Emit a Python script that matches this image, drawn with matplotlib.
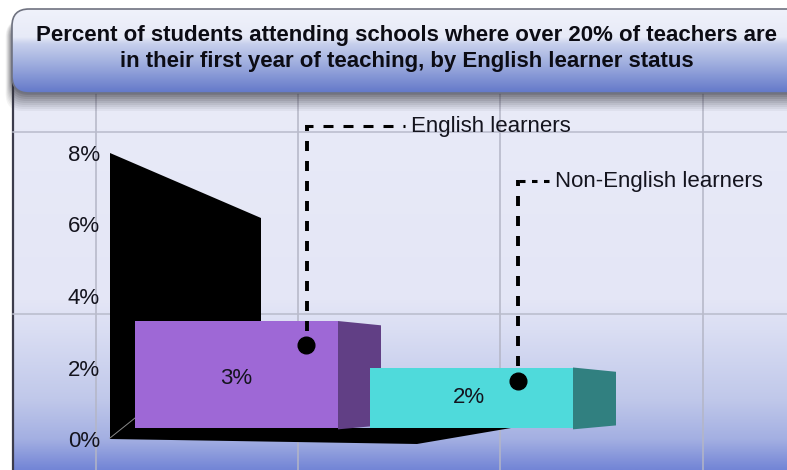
import numpy as np
import matplotlib
matplotlib.use("Agg")
import matplotlib.pyplot as plt
from matplotlib.colors import LinearSegmentedColormap
from matplotlib.patches import FancyBboxPatch, Polygon

# datos
groups = ["English learners", "Non-English learners"]
values = [3.0, 1.7]
value_labels = ["3%", "2%"]
tick_values = [0, 2, 4, 6, 8]
tick_labels = ["0%", "2%", "4%", "6%", "8%"]
title_text = ("Percent of students attending schools where over 20% of teachers are\n"
              "in their first year of teaching, by English learner status")

W, H = 787, 470
plt.rcParams["font.family"] = ["Liberation Sans", "DejaVu Sans"]
plt.rcParams["lines.scale_dashes"] = False

fig = plt.figure(figsize=(W / 100, H / 100), dpi=100, facecolor="white")

# capa de fondo en pixeles
bg = fig.add_axes([0, 0, 1, 1], zorder=0)
bg.set_xlim(0, W)
bg.set_ylim(H, 0)
bg.axis("off")


def gradient(ax, stops, x0, x1, y0, y1, z):
    # stops en pixeles de la imagen, de arriba a abajo
    pos = [(s[0] - y0) / (y1 - y0) for s in stops]
    cmap = LinearSegmentedColormap.from_list("g", list(zip(pos, [s[1] for s in stops])))
    grad = np.linspace(0, 1, 256).reshape(-1, 1)
    return ax.imshow(grad, cmap=cmap, extent=[x0, x1, y1, y0], aspect="auto", zorder=z,
                     vmin=0, vmax=1)


# panel
gradient(bg, [(85, "#e9ebf8"), (300, "#e4e6f6"), (330, "#dadef3"), (400, "#c0c8ea"),
              (440, "#a3afe2"), (470, "#7385d6")], 12, W, 85, H, 1)
bg.plot([12.5, 12.5], [80, H], color="#3c3c4c", lw=1.6, zorder=2)

# rejilla
for gx in [96, 298, 500, 703]:
    bg.plot([gx, gx], [90, H], color="#b4b6c6", lw=1.1, zorder=2)
for gy in [132, 314]:
    bg.plot([13, W], [gy, gy], color="#b9bbcb", lw=1.1, zorder=2)

# pared y piso negros
bg.add_patch(Polygon([(110, 153), (261, 218), (261, 325), (135, 325), (135, 428),
                      (511, 428), (417, 444), (110, 439)], closed=True,
                     fc="black", ec="none", zorder=3))
bg.plot([110, 135], [438, 418], color="#8a8a8a", lw=0.7, zorder=3.5)

# sombra del titulo
for i, a in zip(range(9), [0.05, 0.06, 0.07, 0.08, 0.09, 0.10, 0.12, 0.14, 0.16]):
    off = 18 - 2 * i
    bg.add_patch(FancyBboxPatch((12 - off * 0.35, 20), W + 40, 73 + off,
                                boxstyle="round,pad=0,rounding_size=17",
                                fc="#30303a", ec="none", alpha=a, zorder=4))

# titulo
box = FancyBboxPatch((12, 9), W + 40, 84, boxstyle="round,pad=0,rounding_size=17",
                     fc="none", ec="#6f7280", lw=1.2, zorder=6)
bg.add_patch(box)
im = gradient(bg, [(9, "#f0f2fb"), (37, "#e7eaf7"), (44, "#c6cfec"), (62, "#a3b1e0"),
                   (93, "#6378c9")], 12, W, 9, 93, 5)
bg.set_xlim(0, W)
bg.set_ylim(H, 0)
im.set_clip_path(FancyBboxPatch((12, 9), W + 40, 84, boxstyle="round,pad=0,rounding_size=17",
                                transform=bg.transData))
bg.text(406.5, 48.5, title_text, ha="center", va="center", fontsize=16.0, fontweight="bold",
        color="#0c0c14", linespacing=1.29, zorder=7)

# capa de datos: x en categorias, y en porcentaje
unit_x = 235.0
unit_y = 35.75
ax = fig.add_axes([0, 0, 1, 1], zorder=1)
ax.patch.set_alpha(0)
ax.set_xlim(-236.5 / unit_x, (W - 236.5) / unit_x)
ax.set_ylim(-31 / unit_y, 439 / unit_y)
for s in ax.spines.values():
    s.set_visible(False)
ax.spines["left"].set_position(("data", (104 - 236.5) / unit_x))
ax.set_xticks([])
ax.set_yticks(tick_values)
ax.set_yticklabels(tick_labels, fontsize=16, color="#14141e")
ax.tick_params(axis="y", length=0, pad=3)

bar_w = 203 / unit_x
lift = 0.3  # la cara frontal queda encima del piso
depth = 43 / unit_x
front = ["#9e68d6", "#4fdadb"]
side = ["#613f85", "#318080"]
label_x = [0, 0.99]
for i in range(len(values)):
    ax.bar(i, values[i], width=bar_w, bottom=lift, color=front[i], zorder=5 + i)
    r = i + bar_w / 2
    top_y = lift + values[i]
    ax.add_patch(Polygon([(r, top_y), (r + depth, top_y - 0.12), (r + depth, lift + 0.08),
                          (r, lift - 0.03)], closed=True, fc=side[i], ec="none", zorder=4.5 + i))
    ax.text(label_x[i], lift + values[i] / 2 - 0.1 * (1 - i), value_labels[i], ha="center", va="center",
            fontsize=16, color="#14141e", zorder=8)

# lineas de llamada encima de todo
top = fig.add_axes([0, 0, 1, 1], zorder=2)
top.patch.set_alpha(0)
top.set_xlim(0, W)
top.set_ylim(H, 0)
top.axis("off")
px = 0.72  # puntos por pixel

# primera llamada
top.plot([306.5, 306.5], [331, 125], color="black", lw=2.8, ls=(0, (10 * px, 10 * px)), zorder=9)
top.plot([405, 305], [125.5, 125.5], color="black", lw=2.2, ls=(8 * px, (10 * px, 10 * px)), zorder=9)
top.plot(306, 345, "o", color="black", ms=12, zorder=10)
top.text(411, 126.5, groups[0], ha="left", va="center", fontsize=16, color="#14141e", zorder=10)

# segunda llamada
top.plot([517.5, 517.5], [366, 180], color="black", lw=2.8, ls=(0, (10 * px, 10 * px)), zorder=9)
top.plot([549, 516], [180.5, 180.5], color="black", lw=2.2, ls=(0, (5.5 * px, 6.5 * px)), zorder=9)
top.plot(517.5, 381, "o", color="black", ms=12, zorder=10)
top.text(555, 181.5, groups[1], ha="left", va="center", fontsize=16, color="#14141e", zorder=10)

fig.savefig("out.png", dpi=100)
